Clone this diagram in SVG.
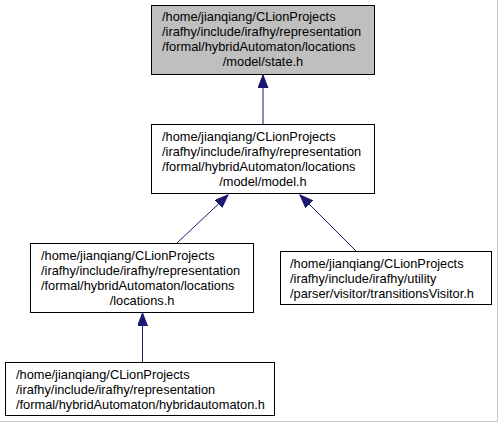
<svg xmlns="http://www.w3.org/2000/svg" width="499" height="423" viewBox="0 0 499 423">
<style>
.box{fill:#ffffff;stroke:#000000;stroke-width:1}
.hl{fill:#bfbfbf}
text{font-family:"Liberation Sans",Arial,Helvetica,sans-serif;font-size:12.8px;fill:#000000}
.c{text-anchor:middle}
.e{stroke:#191970;stroke-width:1;fill:none}
</style>
<defs>
<marker id="arr" markerUnits="userSpaceOnUse" markerWidth="14" markerHeight="11" refX="13" refY="5" orient="auto">
<path d="M0,0 L13,5 L0,10 z" fill="#191970" stroke="#191970" stroke-width="1"/>
</marker>
</defs>
<rect x="0" y="0" width="499" height="423" fill="#ffffff"/>
<path d="M0,421.5 H497.5 V0" fill="none" stroke="#c8c8c8" stroke-width="1"/>
<g id="connectors">
<line class="e" x1="263" y1="125" x2="263" y2="75" marker-end="url(#arr)"/>
<line class="e" x1="177" y1="243" x2="228" y2="195" marker-end="url(#arr)"/>
<line class="e" x1="357" y1="252" x2="300" y2="195" marker-end="url(#arr)"/>
<line class="e" x1="142.5" y1="362" x2="142.5" y2="313" marker-end="url(#arr)"/>
</g>
<g id="node-state">
<rect class="box hl" x="151.5" y="5.5" width="223" height="69"/>
<text x="162" y="21">/home/jianqiang/CLionProjects</text>
<text x="162" y="36">/irafhy/include/irafhy/representation</text>
<text x="162" y="51">/formal/hybridAutomaton/locations</text>
<text class="c" x="263" y="66">/model/state.h</text>
</g>
<g id="node-model">
<rect class="box" x="151.5" y="124.5" width="223" height="69"/>
<text x="162" y="141">/home/jianqiang/CLionProjects</text>
<text x="162" y="156">/irafhy/include/irafhy/representation</text>
<text x="162" y="171">/formal/hybridAutomaton/locations</text>
<text class="c" x="263" y="186">/model/model.h</text>
</g>
<g id="node-locations">
<rect class="box" x="30.5" y="243.5" width="223" height="69"/>
<text x="41" y="260">/home/jianqiang/CLionProjects</text>
<text x="41" y="275">/irafhy/include/irafhy/representation</text>
<text x="41" y="290">/formal/hybridAutomaton/locations</text>
<text class="c" x="142" y="305">/locations.h</text>
</g>
<g id="node-transitionsVisitor">
<rect class="box" x="280.5" y="251.5" width="211" height="53"/>
<text x="290" y="268">/home/jianqiang/CLionProjects</text>
<text x="290" y="283">/irafhy/include/irafhy/utility</text>
<text x="290" y="298">/parser/visitor/transitionsVisitor.h</text>
</g>
<g id="node-hybridautomaton">
<rect class="box" x="5.5" y="362.5" width="269" height="53"/>
<text x="16" y="379">/home/jianqiang/CLionProjects</text>
<text x="16" y="394">/irafhy/include/irafhy/representation</text>
<text x="16" y="409">/formal/hybridAutomaton/hybridautomaton.h</text>
</g>
</svg>
